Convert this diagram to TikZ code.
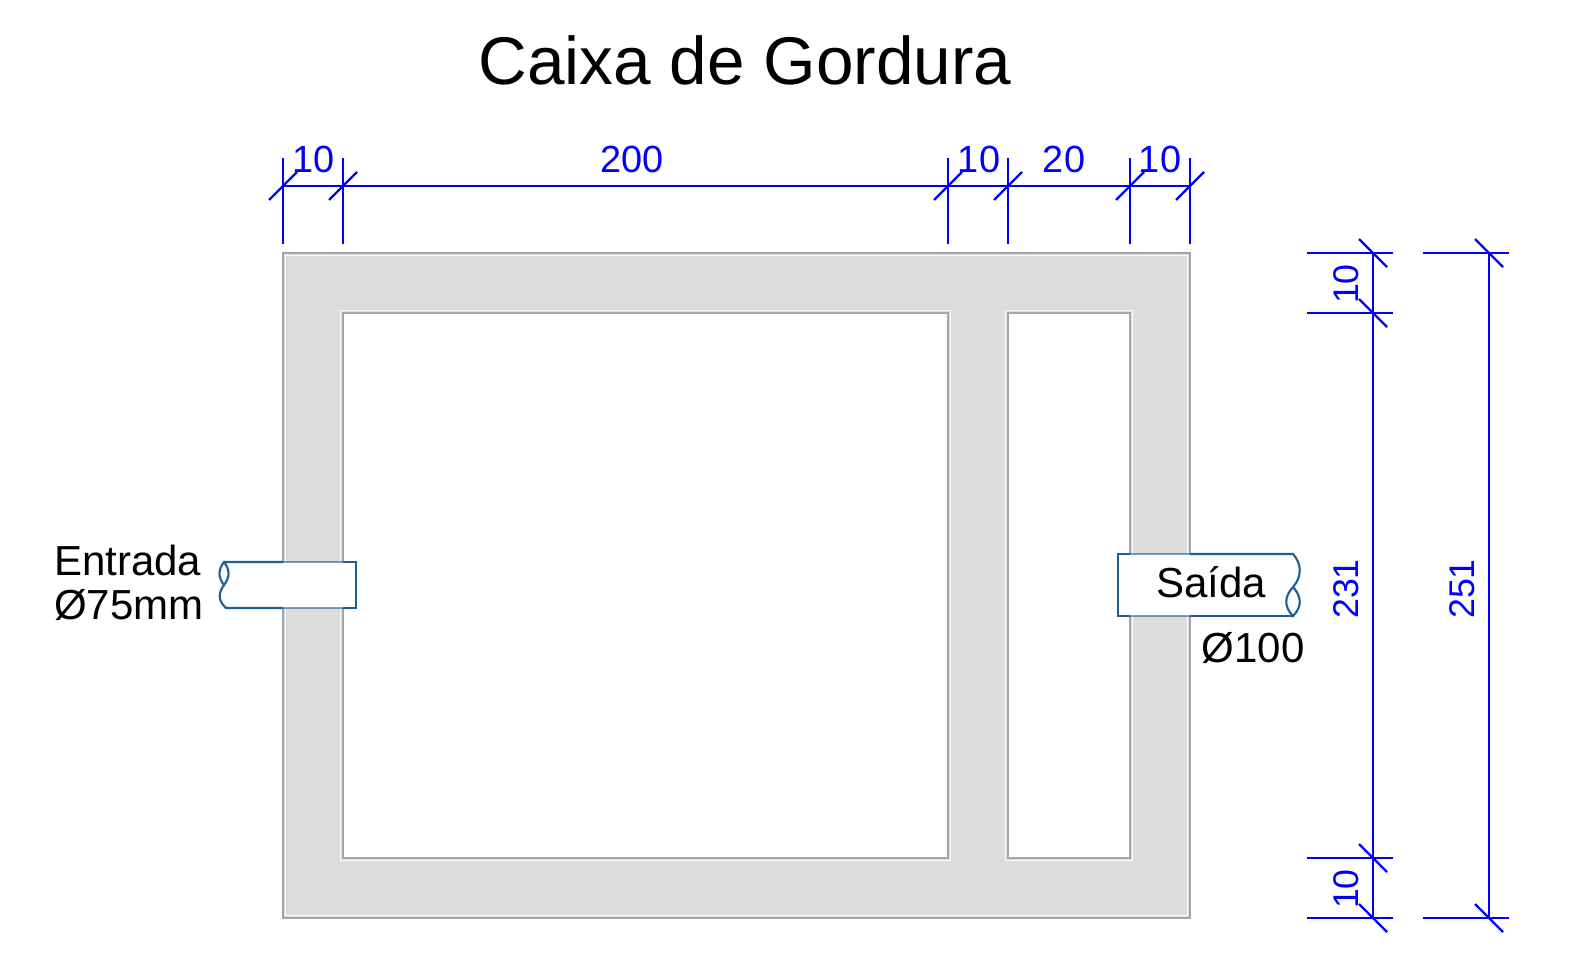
\documentclass[tikz,border=0pt]{standalone}
\usepackage{fontspec}
\setmainfont{Liberation Sans}
\usetikzlibrary{positioning}
\definecolor{dimblue}{RGB}{0,0,255}
\definecolor{pipeblue}{RGB}{31,95,150}
\definecolor{wallgray}{RGB}{220,220,220}
\begin{document}
\begin{tikzpicture}[x=0.75pt,y=-0.75pt]
% Define styles
\tikzstyle{wall} = [draw=black!35, line width=1pt, fill=wallgray]
\tikzstyle{room} = [draw=black!35, line width=1pt, fill=white]
\tikzstyle{halo} = [draw=white!85!wallgray, line width=1pt]
\tikzstyle{pipe} = [draw=pipeblue, line width=1.6pt]
\tikzstyle{pipewall} = [draw=pipeblue, draw opacity=0.6, line width=1pt]
\tikzstyle{dimline} = [draw=dimblue, line width=1.8pt]
\tikzstyle{dimtext} = [text=dimblue, inner sep=0pt, font=\fontsize{28.4pt}{30pt}\selectfont]
\tikzstyle{dimtextv} = [text=dimblue, inner sep=0pt, rotate=90, font=\fontsize{26.8pt}{30pt}\selectfont]
\tikzstyle{label} = [text=black, inner sep=0pt, font=\fontsize{31.5pt}{33pt}\selectfont]

\useasboundingbox (0,0) rectangle (1573,955);

% Draw walls
\draw [wall] (283,253) rectangle (1190,918);
\draw [halo] (285.5,255.5) rectangle (1187.5,915.5);
\draw [halo] (340.5,310.5) rectangle (950.5,860.5);
\draw [halo] (1005.5,310.5) rectangle (1132.5,860.5);
\draw [room] (343,313) rectangle (948,858);
\draw [room] (1008,313) rectangle (1130,858);

% Draw pipes
\fill [white] (224,562) rectangle (355,608);
\draw [pipe] (283,562) -- (224,562) .. controls (218,570) and (218,577) .. (224,585) .. controls (230,577) and (230,570) .. (224,562);
\draw [pipe] (224,585) .. controls (218,593) and (218,601) .. (226,608) -- (283,608);
\draw [pipe] (343,562) -- (356,562) -- (356,608) -- (343,608);
\draw [pipewall] (283,562) -- (343,562);
\draw [pipewall] (283,608) -- (343,608);

\fill [white] (1118,554) rectangle (1293,616);
\draw [pipe] (1130,554) -- (1118,554) -- (1118,616) -- (1130,616);
\draw [pipe] (1190,554) -- (1293,554) .. controls (1302,564) and (1302,577) .. (1293,587);
\draw [pipe] (1293,587) .. controls (1284,597) and (1284,607) .. (1293,616) .. controls (1302,607) and (1302,597) .. (1293,587);
\draw [pipe] (1190,616) -- (1293,616);
\draw [pipewall] (1130,554) -- (1190,554);
\draw [pipewall] (1130,616) -- (1190,616);

% Draw top dimensions
\draw [dimline] (283,186) -- (1190,186);
\draw [dimline] (283,158) -- (283,244);
\draw [dimline] (343,158) -- (343,244);
\draw [dimline] (948,158) -- (948,244);
\draw [dimline] (1008,158) -- (1008,244);
\draw [dimline] (1130,158) -- (1130,244);
\draw [dimline] (1190,158) -- (1190,244);
\draw [dimline] (269,200) -- (297,172);
\draw [dimline] (329,200) -- (357,172);
\draw [dimline] (934,200) -- (962,172);
\draw [dimline] (994,200) -- (1022,172);
\draw [dimline] (1116,200) -- (1144,172);
\draw [dimline] (1176,200) -- (1204,172);

% Draw right dimensions
\draw [dimline] (1373,253) -- (1373,918);
\draw [dimline] (1307,253) -- (1393,253);
\draw [dimline] (1307,313) -- (1393,313);
\draw [dimline] (1307,858) -- (1393,858);
\draw [dimline] (1307,918) -- (1393,918);
\draw [dimline] (1359,239) -- (1387,267);
\draw [dimline] (1359,299) -- (1387,327);
\draw [dimline] (1359,844) -- (1387,872);
\draw [dimline] (1359,904) -- (1387,932);
\draw [dimline] (1489,253) -- (1489,918);
\draw [dimline] (1423,253) -- (1509,253);
\draw [dimline] (1423,918) -- (1509,918);
\draw [dimline] (1475,239) -- (1503,267);
\draw [dimline] (1475,904) -- (1503,932);

% Draw labels
\node (title) [text=black, font=\fontsize{50.6pt}{54pt}\selectfont] at (745,60) {Caixa de Gordura};
\node (dimA) [dimtext] at (314,159) {10};
\node (dimB) [dimtext] at (632,159) {200};
\node (dimC) [dimtext] at (979,159) {10};
\node (dimD) [dimtext] at (1064,159) {20};
\node (dimE) [dimtext] at (1160,159) {10};
\node (dimF) [dimtextv] at (1346,284) {10};
\node (dimG) [dimtextv] at (1346,589) {231};
\node (dimH) [dimtextv] at (1346,889) {10};
\node (dimI) [dimtextv] at (1462,589) {251};
\node (entrada) [label, anchor=west] at (54,560) {Entrada};
\node (entradadiam) [label, anchor=west] at (54,605) {Ø75mm};
\node (saida) [label] at (1211,582) {Saída};
\node (saidadiam) [label] at (1253,648) {Ø100};
\end{tikzpicture}
\end{document}
